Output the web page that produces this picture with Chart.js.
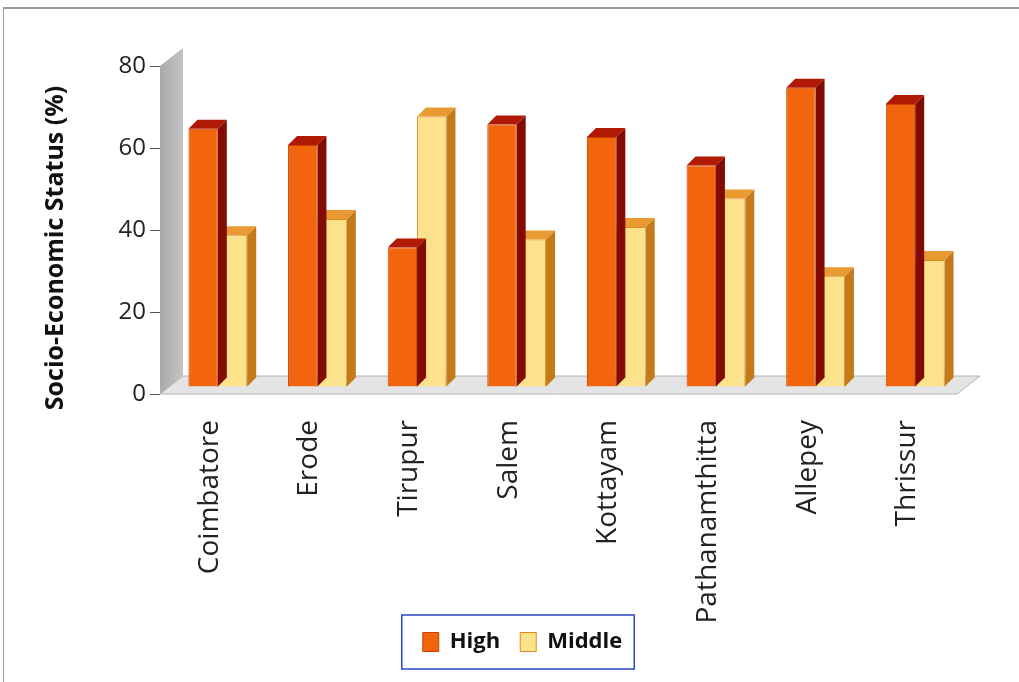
<!DOCTYPE html>
<html>
<head>
<meta charset="utf-8">
<script src="https://cdn.jsdelivr.net/npm/chart.js@4"></script>
<style>
  body { margin: 0; background: #fff; }
  #wrap { position: relative; width: 1019px; height: 682px; }
  #frame {
    position: absolute; left: 3px; top: 7px; right: 0; bottom: 0;
    border-top: 2px solid #9a9a9a; border-left: 1px solid #9a9a9a;
  }
  canvas { position: absolute; left: 0; top: 0; }
</style>
</head>
<body>
<div id="wrap">
  <div id="frame"></div>
  <canvas id="statusChart" width="1019" height="682"></canvas>
</div>
<script>
const categories = ["Coimbatore", "Erode", "Tirupur", "Salem", "Kottayam", "Pathanamthitta", "Allepey", "Thrissur"];
const highValues = [63, 59, 34, 64, 61, 54, 73, 69];
const middleValues = [37, 41, 66, 36, 39, 46, 27, 31];
const yMax = 80;
const yStep = 20;

// offset of the bar row inside the 3d floor, and bar depth
const rowShift = { x: 8, y: -7 };
const barDepth = { x: 9, y: 9 };
const wallDepth = { x: 23, y: 18 };
const sideColors = ["#840b02", "#c27a1a"];
const topColors = ["#b01903", "#e99a32"];
const legendShift = { x: 44, y: -19 };
const titleShiftY = 18;

// gray wall, floor and the depth faces of the bars
const bars3d = {
  id: "bars3d",
  beforeDatasetsDraw(chart) {
    const ctx = chart.ctx;
    const a = chart.chartArea;
    ctx.save();
    // floor
    ctx.beginPath();
    ctx.moveTo(a.left, a.bottom);
    ctx.lineTo(a.left + wallDepth.x, a.bottom - wallDepth.y);
    ctx.lineTo(a.right + wallDepth.x, a.bottom - wallDepth.y);
    ctx.lineTo(a.right, a.bottom);
    ctx.closePath();
    ctx.fillStyle = "#e4e4e4";
    ctx.fill();
    ctx.strokeStyle = "#b4b4b4";
    ctx.lineWidth = 1;
    ctx.stroke();
    // back wall on the left
    const g = ctx.createLinearGradient(a.left, 0, a.left + wallDepth.x, 0);
    g.addColorStop(0, "#a9a9a9");
    g.addColorStop(1, "#c4c4c4");
    ctx.beginPath();
    ctx.moveTo(a.left, a.top);
    ctx.lineTo(a.left + wallDepth.x, a.top - wallDepth.y);
    ctx.lineTo(a.left + wallDepth.x, a.bottom - wallDepth.y);
    ctx.lineTo(a.left, a.bottom);
    ctx.closePath();
    ctx.fillStyle = g;
    ctx.fill();
    ctx.restore();
  },
  beforeDatasetDraw(chart, args) {
    const ctx = chart.ctx;
    ctx.save();
    ctx.translate(rowShift.x, rowShift.y);
    args.meta.data.forEach((bar) => {
      const p = bar.getProps(["x", "y", "base", "width"], true);
      const l = p.x - p.width / 2;
      const r = p.x + p.width / 2;
      // side face
      ctx.beginPath();
      ctx.moveTo(r, p.y);
      ctx.lineTo(r + barDepth.x, p.y - barDepth.y);
      ctx.lineTo(r + barDepth.x, p.base - barDepth.y);
      ctx.lineTo(r, p.base);
      ctx.closePath();
      ctx.fillStyle = sideColors[args.index];
      ctx.fill();
      // top face
      ctx.beginPath();
      ctx.moveTo(l, p.y);
      ctx.lineTo(l + barDepth.x, p.y - barDepth.y);
      ctx.lineTo(r + barDepth.x, p.y - barDepth.y);
      ctx.lineTo(r, p.y);
      ctx.closePath();
      ctx.fillStyle = topColors[args.index];
      ctx.fill();
    });
  },
  afterDatasetDraw(chart) {
    chart.ctx.restore();
  },
};

// y title sits a little lower than the plot middle in the original
const titleNudge = {
  id: "titleNudge",
  beforeDraw(chart) {
    const y = chart.scales.y;
    if (y._nudged) return;
    const orig = y.drawTitle.bind(y);
    y.drawTitle = function () {
      chart.ctx.save();
      chart.ctx.translate(0, titleShiftY);
      orig();
      chart.ctx.restore();
    };
    y._nudged = true;
  },
};

// move the legend under the middle of the plot and frame it in blue
const legendFrame = {
  id: "legendFrame",
  beforeDraw(chart) {
    const lg = chart.legend;
    lg.left += legendShift.x;
    lg.right += legendShift.x;
    lg.top += legendShift.y;
    lg.bottom += legendShift.y;
    lg.legendHitBoxes.forEach((b) => {
      b.left += legendShift.x;
      b.top += legendShift.y;
    });
  },
  afterDraw(chart) {
    const boxes = chart.legend.legendHitBoxes;
    if (!boxes || !boxes.length) return;
    const minX = Math.min(...boxes.map((b) => b.left));
    const maxX = Math.max(...boxes.map((b) => b.left + b.width));
    const top = boxes[0].top;
    const h = boxes[0].height;
    const ctx = chart.ctx;
    ctx.save();
    ctx.strokeStyle = "#2b45c8";
    ctx.lineWidth = 1.5;
    ctx.strokeRect(minX - 21, top - 16, maxX - minX + 33, h + 32);
    ctx.restore();
  },
};

const ctx = document.getElementById("statusChart").getContext("2d");
new Chart(ctx, {
  type: "bar",
  data: {
    labels: categories,
    datasets: [
      {
        label: "High",
        data: highValues,
        backgroundColor: "#f2650c",
        borderColor: "#c84000",
        borderWidth: 1,
        barPercentage: 1,
        categoryPercentage: 0.59,
      },
      {
        label: "Middle",
        data: middleValues,
        backgroundColor: "#fde28c",
        borderColor: "#e08a1c",
        borderWidth: 1,
        barPercentage: 1,
        categoryPercentage: 0.59,
      },
    ],
  },
  options: {
    responsive: false,
    animation: false,
    layout: { padding: { left: 0, right: 62, top: 66, bottom: 0 } },
    plugins: {
      tooltip: { enabled: false },
      legend: {
        position: "bottom",
        labels: {
          boxWidth: 16,
          boxHeight: 19,
          padding: 20,
          color: "#111",
          font: { family: "Open Sans", size: 22, weight: "bold" },
        },
      },
    },
    scales: {
      x: {
        grid: { display: false },
        border: { display: false },
        ticks: {
          minRotation: 90,
          maxRotation: 90,
          padding: 18,
          color: "#222",
          font: { family: "Open Sans", size: 28 },
        },
        afterFit(scale) { scale.height = 236; },
      },
      y: {
        min: 0,
        max: yMax,
        grid: {
          drawOnChartArea: false,
          drawTicks: true,
          tickLength: 10,
          color: "#555",
        },
        border: { display: false },
        ticks: {
          stepSize: yStep,
          padding: 4,
          color: "#222",
          font: { family: "Open Sans", size: 24 },
        },
        title: {
          display: true,
          text: "Socio-Economic Status (%)",
          color: "#111",
          padding: { top: 41, bottom: 0 },
          font: { family: "Open Sans", size: 25, weight: "bold" },
        },
        afterFit(scale) { scale.width = 160; },
      },
    },
  },
  plugins: [bars3d, titleNudge, legendFrame],
});
</script>
</body>
</html>
